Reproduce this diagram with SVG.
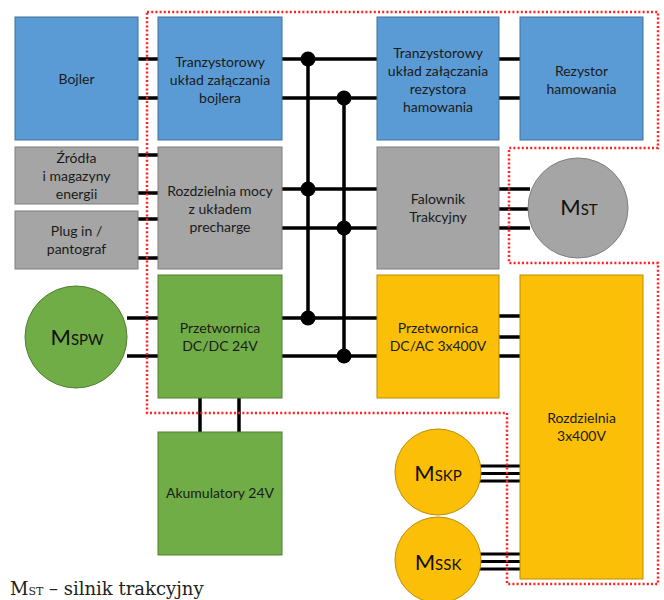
<svg xmlns="http://www.w3.org/2000/svg" width="664" height="600" viewBox="0 0 664 600">
<style>
.blue{fill:#5B9BD5;stroke:#41719C;stroke-width:1}
.grey{fill:#A5A5A5;stroke:#7F7F7F;stroke-width:1}
.green{fill:#70AD47;stroke:#507E32;stroke-width:1}
.yellow{fill:#FBBF08;stroke:#BC8C00;stroke-width:1}
.t{font-family:Lato,"Open Sans",sans-serif;font-size:14px;fill:#1a1a1a;text-anchor:middle}
.m{font-family:Lato,"Open Sans",sans-serif;font-size:22px;fill:#111;text-anchor:middle}
.m tspan.s{font-size:15px}
.w{stroke:#000;stroke-width:3.5;fill:none}
.dot{fill:#000}
.border{fill:none;stroke:#F22;stroke-width:2.5;stroke-dasharray:2 2.2}
</style>
<g id="connectors">
<path class="w" d="M138,59H158M138,98H158M282,59H377M282,98H377M499,59H520M499,98H520"/>
<path class="w" d="M138,155H158M138,193H158M138,219H158M138,258H158"/>
<path class="w" d="M282,189H377M282,228H377M499,189H530M499,209H530M499,228H530"/>
<path class="w" d="M127,318H158M127,356H158M282,318H377M282,356H377M499,316H520M499,337H520M499,356H520"/>
<path class="w" d="M308,59V318M344,98V356"/>
<path class="w" d="M200,398V432M239,398V432"/>
<path d="M478,466H520M478,473.5H520M478,481H520M478,554H520M478,561.5H520M478,569H520" stroke="#000" stroke-width="3" fill="none"/>
<circle class="dot" cx="308" cy="59" r="7.5"/>
<circle class="dot" cx="344" cy="98" r="7.5"/>
<circle class="dot" cx="308" cy="189" r="7.5"/>
<circle class="dot" cx="344" cy="228" r="7.5"/>
<circle class="dot" cx="308" cy="318" r="7.5"/>
<circle class="dot" cx="344" cy="356" r="7.5"/>
</g>
<path class="border" d="M147,12H658V148H509V263H658V584H507V413H147Z"/>
<g id="bojler"><rect class="blue" x="15" y="17" width="123" height="123"/><text class="t" x="76.5" y="84">Bojler</text></g>
<g id="tranz-bojler"><rect class="blue" x="158" y="17" width="124" height="123"/><text class="t" x="220" y="67">Tranzystorowy</text><text class="t" x="220" y="85">układ załączania</text><text class="t" x="220" y="103">bojlera</text></g>
<g id="tranz-rezystor"><rect class="blue" x="377" y="17" width="122" height="123"/><text class="t" x="438" y="58">Tranzystorowy</text><text class="t" x="438" y="76">układ załączania</text><text class="t" x="438" y="94">rezystora</text><text class="t" x="438" y="112">hamowania</text></g>
<g id="rezystor"><rect class="blue" x="520" y="17" width="123" height="123"/><text class="t" x="581.5" y="76">Rezystor</text><text class="t" x="581.5" y="94">hamowania</text></g>
<g id="zrodla"><rect class="grey" x="15" y="147" width="123" height="57"/><text class="t" x="76.5" y="163">Źródła</text><text class="t" x="76.5" y="181">i magazyny</text><text class="t" x="76.5" y="199">energii</text></g>
<g id="plugin"><rect class="grey" x="15" y="211" width="123" height="58"/><text class="t" x="76.5" y="236">Plug in /</text><text class="t" x="76.5" y="254">pantograf</text></g>
<g id="rozdzielnia-mocy"><rect class="grey" x="158" y="147" width="124" height="122"/><text class="t" x="220" y="196">Rozdzielnia mocy</text><text class="t" x="220" y="214">z układem</text><text class="t" x="220" y="232">precharge</text></g>
<g id="falownik"><rect class="grey" x="377" y="147" width="122" height="122"/><text class="t" x="438" y="204">Falownik</text><text class="t" x="438" y="222">Trakcyjny</text></g>
<g id="mst"><circle class="grey" cx="578" cy="208" r="50"/><text class="m" x="579" y="215">M<tspan class="s">ST</tspan></text></g>
<g id="mspw"><circle class="green" cx="76" cy="337" r="51"/><text class="m" x="77" y="345">M<tspan class="s">SPW</tspan></text></g>
<g id="dcdc"><rect class="green" x="158" y="275" width="124" height="123"/><text class="t" x="220" y="333">Przetwornica</text><text class="t" x="220" y="351">DC/DC 24V</text></g>
<g id="akumulatory"><rect class="green" x="158" y="432" width="124" height="123"/><text class="t" x="220" y="498">Akumulatory 24V</text></g>
<g id="dcac"><rect class="yellow" x="377" y="275" width="122" height="123"/><text class="t" x="438" y="333">Przetwornica</text><text class="t" x="438" y="351">DC/AC 3x400V</text></g>
<g id="rozdzielnia-400"><rect class="yellow" x="520" y="275" width="123" height="304"/><text class="t" x="581.5" y="423">Rozdzielnia</text><text class="t" x="581.5" y="441">3x400V</text></g>
<g id="mskp"><circle class="yellow" cx="438" cy="472" r="43"/><text class="m" x="438" y="481">M<tspan class="s">SKP</tspan></text></g>
<g id="mssk"><circle class="yellow" cx="438" cy="560" r="43"/><text class="m" x="438" y="570">M<tspan class="s">SSK</tspan></text></g>
<text x="10" y="595" style="font-family:'DejaVu Serif',serif;font-size:18px;fill:#222">M<tspan style="font-size:11px">ST</tspan> – silnik trakcyjny</text>
</svg>
